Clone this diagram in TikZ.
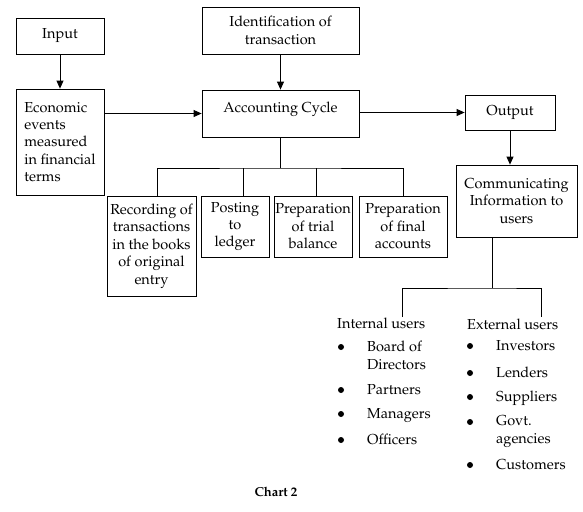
\documentclass[tikz,border=0pt]{standalone}
\usepackage[T1]{fontenc}
\usepackage{mathpazo}
\usetikzlibrary{arrows.meta}
\begin{document}
\begin{tikzpicture}[x = 1pt, y = -1pt,
    box/.style = {draw, thick, inner sep = 0pt, align = center,
                  font = \fontsize{14.5}{17.4}\selectfont},
    item/.style = {inner sep = 0pt, align = left, anchor = base west,
                   font = \fontsize{14.5}{17.4}\selectfont},
    dot/.style = {circle, fill, inner sep = 0pt, minimum size = 6pt},
    arr/.style = {thick, -{Triangle[length = 8pt, width = 7pt]}}]
    \useasboundingbox (0, 0) rectangle (583, 511);
    % top row
    \node [box, minimum width = 88, minimum height = 36] (input) at (60, 36) {Input};
    \node [box, minimum width = 157, minimum height = 47] (ident) at (280.5, 30.5) {Identification of\\transaction};
    \node [box, minimum width = 88, minimum height = 106, align = left] (econ) at (60, 142)
        {Economic\\events\\measured\\in financial\\terms};
    \node [box, minimum width = 157, minimum height = 47, text height = 22pt, text depth = 25pt] (acc) at (280.5, 113.5) {Accounting Cycle};
    \node [box, minimum width = 90, minimum height = 35] (output) at (510, 112.5) {Output};
    \node [box, minimum width = 121, minimum height = 72] (comm) at (516.5, 201) {Communicating\\Information to\\users};
    \draw [arr] (input) -- (econ);
    \draw [arr] (ident) -- (acc);
    \draw [arr] (econ.east |- acc) -- (acc);
    \draw [arr] (acc.east |- output) -- (output);
    \draw [arr] (output) -- (output |- comm.north);
    % steps of the cycle
    \node [box, minimum width = 89, minimum height = 100] (rec) at (151.5, 246) {Recording of\\transactions\\in the books\\of original\\entry};
    \node [box, minimum width = 68, minimum height = 61] (post) at (235, 226.5) {Posting\\to\\ledger};
    \node [box, minimum width = 78, minimum height = 61] (trial) at (313, 226.5) {Preparation\\of trial\\balance};
    \node [box, minimum width = 88, minimum height = 61] (final) at (403, 226.5) {Preparation\\of final\\accounts};
    \coordinate (bar) at (280.5, 168);
    \draw [thick] (acc) -- (bar);
    \draw [thick] ([xshift = 5.5]rec.north) |- (bar) -| (final.north);
    \draw [thick] ([xshift = 8]post.north) -- ([xshift = 8]post.north |- bar);
    \draw [thick] ([xshift = 3]trial.north) -- ([xshift = 3]trial.north |- bar);
    % users
    \coordinate (split) at (492, 288);
    \coordinate (intend) at (402, 317);
    \coordinate (extend) at (541, 317);
    \draw [thick] (split |- comm.south) -- (split);
    \draw [thick] (intend) |- (split) -| (extend);
    \node [item] (intl) at (337, 328) {Internal users};
    \node [item] (extl) at (467, 329) {External users};
    \foreach \n/\yy/\bb/\t in {1/369/347/{Board of\\Directors}, 2/394/390/Partners, 3/418/414/Managers, 4/444/440/Officers} {
        \node [dot] (ib\n) at (341, \bb) {};
        \node [item] (i\n) at (367, \yy) {\t};
    }
    \foreach \n/\yy/\bb/\t in {1/350/346/Investors, 2/377/373/Lenders, 3/401/397/Suppliers, 4/443/422/{Govt.\\agencies}, 5/469/465/Customers} {
        \node [dot] (eb\n) at (470, \bb) {};
        \node [item] (e\n) at (496, \yy) {\t};
    }
    \node [font = \fontsize{13}{15}\selectfont\bfseries] (chart) at (276, 492) {Chart 2};
\end{tikzpicture}
\end{document}
